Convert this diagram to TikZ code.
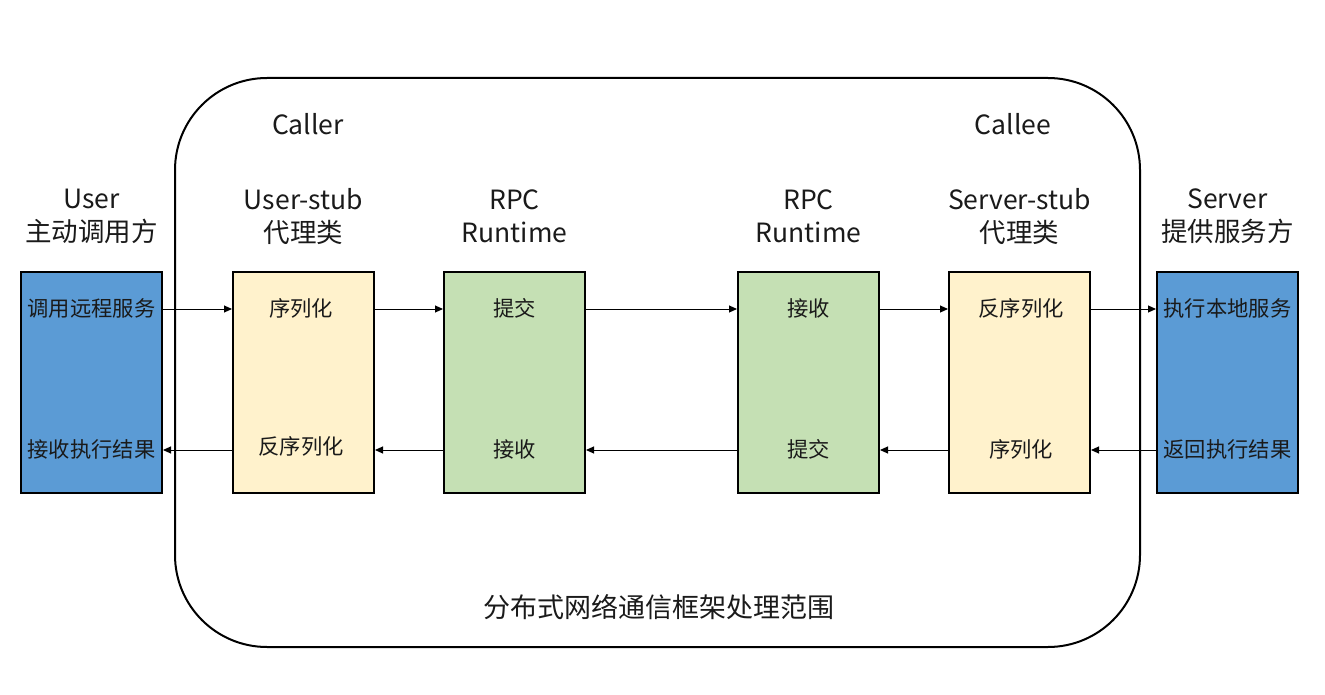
\documentclass[tikz,border=0pt]{standalone}
\usepackage{fontspec}
\setmainfont{Noto Sans CJK SC}
\usetikzlibrary{arrows.meta}
\definecolor{cblue}{HTML}{5B9BD5}
\definecolor{cyellow}{HTML}{FFF2CC}
\definecolor{cgreen}{HTML}{C5E0B4}
\definecolor{ctext}{HTML}{1A1A1A}
\tikzset{
  blk/.style={draw=black, line width=2pt, minimum width=141pt, minimum height=221pt, inner sep=0pt},
  hdr/.style={text=ctext, font=\fontsize{26.5}{33}\selectfont, align=center, inner sep=0pt},
  inl/.style={text=ctext, font=\fontsize{21.3}{24}\selectfont, inner sep=0pt},
  conn/.style={line width=1pt, -{Triangle[length=8pt,width=7pt]}},
}
\begin{document}
\begin{tikzpicture}[x=1pt,y=-1pt]
\useasboundingbox (0,0) rectangle (1325,695);
% frame
\draw[line width=2pt, rounded corners=92pt] (175,78) rectangle (1140,647);
\node[hdr] (caller) at (308,124) {Caller};
\node[hdr] (callee) at (1013,124) {Callee};
\node[hdr, font=\fontsize{27}{30}\selectfont] (scope) at (659,607) {分布式网络通信框架处理范围};
% boxes
\node[blk, fill=cblue]   (u)  at (91.5,382.5)  {};
\node[blk, fill=cyellow] (us) at (303.5,382.5) {};
\node[blk, fill=cgreen]  (r1) at (514.5,382.5) {};
\node[blk, fill=cgreen]  (r2) at (808.5,382.5) {};
\node[blk, fill=cyellow] (ss) at (1019.5,382.5) {};
\node[blk, fill=cblue]   (s)  at (1227.5,382.5) {};
% headers
\node[hdr] (hu)  at (91.5,216.5)  {User\\主动调用方};
\node[hdr] (hus) at (303.5,216.5) {User-stub\\代理类};
\node[hdr] (hr1) at (514.5,216.5) {RPC\\Runtime};
\node[hdr] (hr2) at (808.5,216.5) {RPC\\Runtime};
\node[hdr] (hss) at (1019.5,216.5) {Server-stub\\代理类};
\node[hdr] (hs)  at (1227.5,216.5) {Server\\提供服务方};
% inner texts
\node[inl] (u1)  at (91.5,308)  {调用远程服务};
\node[inl] (u2)  at (91.5,449)  {接收执行结果};
\node[inl] (us1) at (301,308)   {序列化};
\node[inl] (us2) at (301,446)   {反序列化};
\node[inl] (r11) at (514.5,308) {提交};
\node[inl] (r12) at (514.5,449) {接收};
\node[inl] (r21) at (808.5,308) {接收};
\node[inl] (r22) at (808.5,449) {提交};
\node[inl] (ss1) at (1021,308)  {反序列化};
\node[inl] (ss2) at (1021,449)  {序列化};
\node[inl] (s1)  at (1227.5,308) {执行本地服务};
\node[inl] (s2)  at (1227.5,449) {返回执行结果};
% rows
\coordinate (row1) at (0,309);
\coordinate (row2) at (0,450);
\draw[conn] (u.east |- row1) -- (us.west |- row1);
\draw[conn] (us.east |- row1) -- (r1.west |- row1);
\draw[conn] (r1.east |- row1) -- (r2.west |- row1);
\draw[conn] (r2.east |- row1) -- (ss.west |- row1);
\draw[conn] (ss.east |- row1) -- (s.west |- row1);
\draw[conn] (s.west |- row2) -- (ss.east |- row2);
\draw[conn] (ss.west |- row2) -- (r2.east |- row2);
\draw[conn] (r2.west |- row2) -- (r1.east |- row2);
\draw[conn] (r1.west |- row2) -- (us.east |- row2);
\draw[conn] (us.west |- row2) -- (u.east |- row2);
\end{tikzpicture}
\end{document}
